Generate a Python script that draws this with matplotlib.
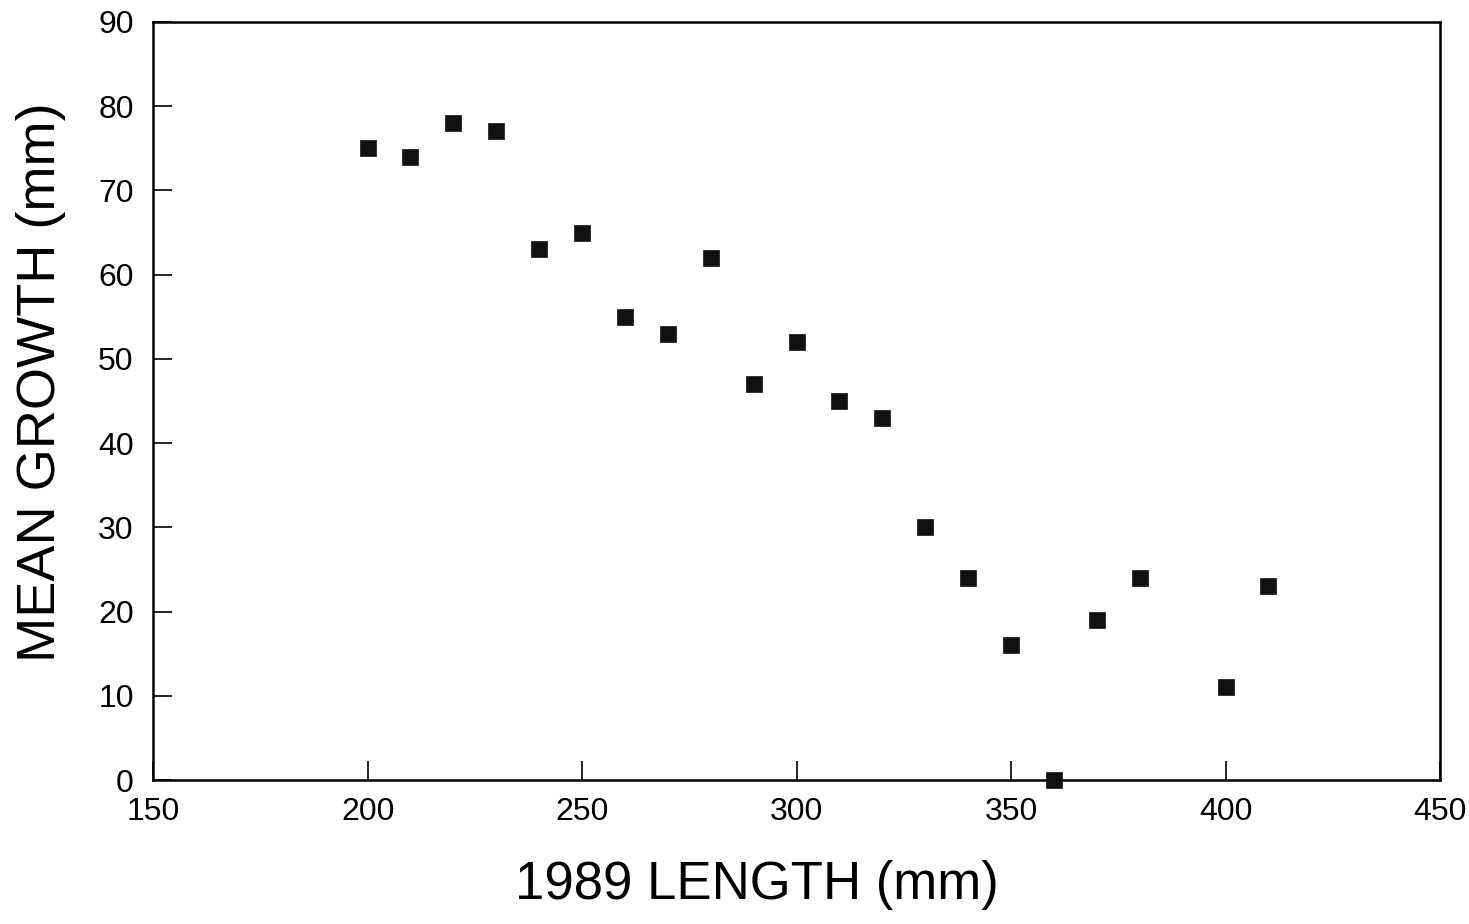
import matplotlib.pyplot as plt

plt.rcParams['font.family'] = ['Liberation Sans', 'DejaVu Sans']

length_1989 = [200, 210, 220, 230, 240, 250, 260, 270, 280, 290, 300,
               310, 320, 330, 340, 350, 360, 370, 380, 400, 410]
mean_growth = [75, 74, 78, 77, 63, 65, 55, 53, 62, 47, 52,
               45, 43, 30, 24, 16, 0, 19, 24, 11, 23]
x_ticks = [150, 200, 250, 300, 350, 400, 450]
y_ticks = [0, 10, 20, 30, 40, 50, 60, 70, 80, 90]

fig = plt.figure(figsize=(14.69, 9.24), dpi=100)
ax = fig.add_axes([0.1042, 0.1558, 0.8761, 0.8204])

ax.scatter(length_1989, mean_growth, marker='s', s=120, color='#111111',
           edgecolors='#111111', linewidths=0.5, zorder=3, clip_on=False)

ax.set_xlim(150, 450)
ax.set_ylim(0, 90)
ax.set_xticks(x_ticks)
ax.set_yticks(y_ticks)
ax.tick_params(direction='in', length=14, width=1.2, labelsize=23)
ax.tick_params(axis='x', pad=12)
ax.tick_params(axis='y', pad=14)
for side in ax.spines.values():
    side.set_linewidth(1.8)

ax.set_xlabel('1989 LENGTH (mm)', fontsize=38)
ax.set_ylabel('MEAN GROWTH (mm)', fontsize=39)
ax.xaxis.set_label_coords(0.469, -0.1385)
ax.xaxis.label.set_va('center')
ax.yaxis.set_label_coords(-0.0874, 0.525)
ax.yaxis.label.set_va('center')

fig.savefig('out.png', dpi=100)
